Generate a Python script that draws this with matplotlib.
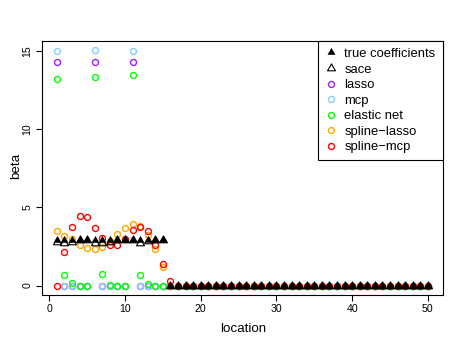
import matplotlib
matplotlib.use("Agg")
import matplotlib.pyplot as plt
from matplotlib.path import Path

plt.rcParams['font.family'] = ['Liberation Sans', 'DejaVu Sans']

# ── data ─────────────────────────────────────────────────────
location = list(range(1, 51))
tail = [0.0] * 34  # locations 17-50, all at zero

true_coef = [2.9, 2.9, 2.9, 2.9, 2.9, 2.9, 2.9, 2.9, 2.9, 2.9,
             2.9, 2.9, 2.9, 2.9, 2.9, 0.0] + tail
sace = [2.8, 2.7, 2.8, 2.9, 2.9, 2.75, 2.7, 2.8, 2.9, 2.9,
        2.9, 2.7, 2.85, 2.9, 2.9, 0.0] + tail
lasso = [14.3, 0.0, 0.0, 0.0, 0.0, 14.3, 0.0, 0.0, 0.0, 0.0,
         14.3, 0.0, 0.0, 0.0, 0.0, 0.0] + tail
mcp = [15.0, 0.0, 0.0, 0.0, 0.0, 15.05, 0.0, 0.0, 0.0, 0.0,
       15.0, 0.0, 0.0, 0.0, 0.0, 0.0] + tail
elastic_net = [13.2, 0.66, 0.15, 0.0, 0.0, 13.35, 0.72, 0.05, 0.0, 0.0,
               13.45, 0.66, 0.08, 0.0, 0.0, 0.0] + tail
spline_lasso = [3.52, 3.17, 2.95, 2.59, 2.38, 2.35, 2.48, 2.85, 3.27, 3.65,
                3.92, 3.78, 3.21, 2.31, 1.21, 0.0] + tail
spline_mcp = [0.0, 2.16, 3.72, 4.45, 4.36, 3.71, 3.02, 2.59, 2.61, 2.97,
              3.55, 3.77, 3.46, 2.58, 1.41, 0.32] + tail

# R-style triangle (point sits on the centroid, like pch 2 / 17)
r_tri = Path([(0, 1.555), (-1.347, -0.778), (1.347, -0.778), (0, 1.555)],
             [Path.MOVETO, Path.LINETO, Path.LINETO, Path.CLOSEPOLY])

fig = plt.figure(figsize=(4.65, 3.46), dpi=100)
ax = fig.add_axes([42 / 465, 51 / 346, 400.7 / 465, 254.3 / 346])

ax.plot(location, true_coef, linestyle='none', marker=r_tri, ms=6.6,
        color='black', mew=0, label='true coefficients', zorder=4)
ax.plot(location, sace, linestyle='none', marker=r_tri, ms=6.6,
        mfc='none', mec='black', mew=0.8, label='sace', zorder=3.5)

circles = [("lasso", lasso, "#A020F0"),
           ("mcp", mcp, "#87CEFA"),
           ("elastic net", elastic_net, "#00FF00"),
           ("spline\u2212lasso", spline_lasso, "#FFA500"),
           ("spline\u2212mcp", spline_mcp, "#FF0000")]
for name, vals, col in circles:
    ax.plot(location, vals, linestyle='none', marker='o', ms=4.3,
            mfc='none', mec=col, mew=1.0, label=name, zorder=3)

ax.set_xlim(-0.96, 51.96)
ax.set_ylim(-0.6, 15.65)
ax.set_xticks([0, 10, 20, 30, 40, 50])
ax.set_yticks([0, 5, 10, 15])
ax.tick_params(direction='out', length=4.3, width=0.8, labelsize=7.6, pad=2.5)
for lab in ax.get_yticklabels():
    lab.set_rotation(90)
    lab.set_va('center')
for s in ax.spines.values():
    s.set_linewidth(0.8)

fig.text(243 / 465, 1 - 329 / 346, "location", ha='center', va='center', fontsize=9.6)
fig.text(16 / 465, 1 - 166 / 346, "beta", ha='center', va='center',
         rotation=90, fontsize=9.6)

leg = ax.legend(loc='upper right', borderaxespad=0, fancybox=False,
                edgecolor='black', framealpha=1, fontsize=9.4,
                handlelength=1.0, handletextpad=0.5, labelspacing=0.26,
                borderpad=0.55)
leg.set_zorder(5)
leg.get_frame().set_linewidth(0.8)

fig.savefig("out.png", dpi=100)
